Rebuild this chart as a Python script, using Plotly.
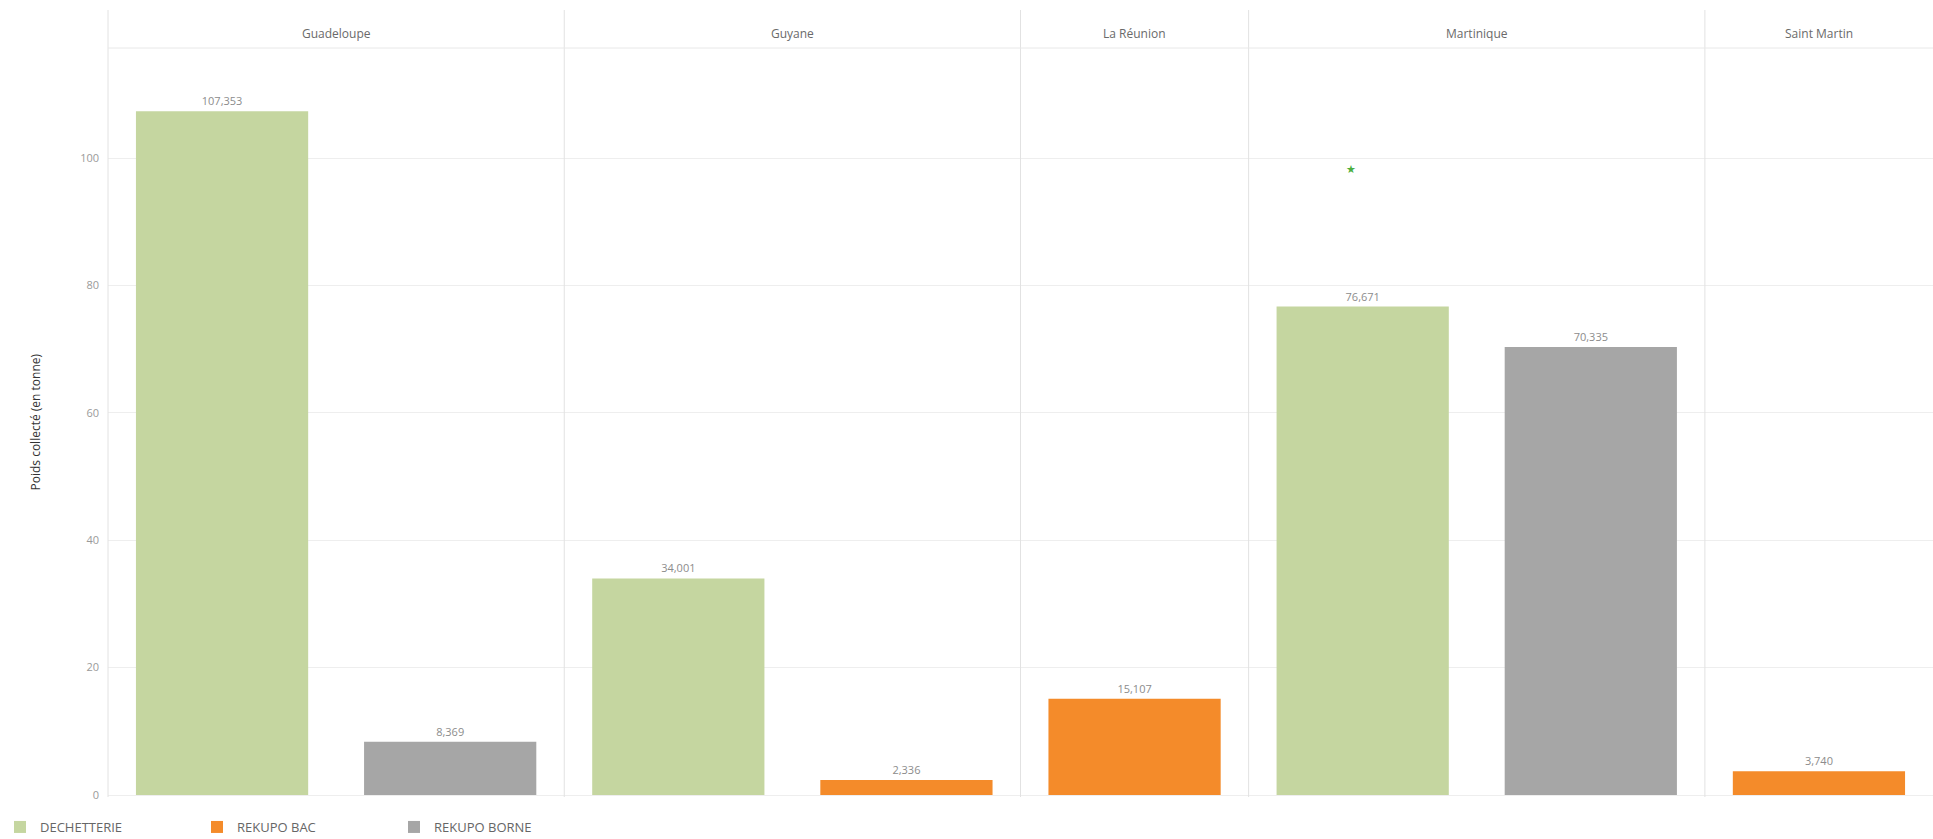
import plotly.graph_objects as go
from plotly.subplots import make_subplots

# ---------------- data ----------------
regions = ["Guadeloupe", "Guyane", "La Réunion", "Martinique", "Saint Martin"]
types = ["DECHETTERIE", "REKUPO BAC", "REKUPO BORNE"]
dechetterie = [107.353, 34.001, None, 76.671, None]
rekupo_bac = [None, 2.336, 15.107, None, 3.740]
rekupo_borne = [8.369, None, None, 70.335, None]
y_ticks = [0, 20, 40, 60, 80, 100]
y_title = "Poids collecté (en tonne)"

series = {"DECHETTERIE": dechetterie, "REKUPO BAC": rekupo_bac, "REKUPO BORNE": rekupo_borne}
colors = {"DECHETTERIE": "#c5d6a0", "REKUPO BAC": "#f48b2a", "REKUPO BORNE": "#a6a6a6"}

# ---------------- layout constants ----------------
W, H = 1933, 839
ML, MR, MT, MB = 108, 0, 48, 42
plot_h = H - MT - MB
px_per_unit = 6.37
zero_px_above_bottom = 2
y0 = -zero_px_above_bottom / px_per_unit
y1 = y0 + plot_h / px_per_unit

present = [[t for t in types if series[t][i] is not None] for i in range(len(regions))]
widths = [len(p) for p in present]

fig = make_subplots(rows=1, cols=len(regions), column_widths=widths,
                    horizontal_spacing=0, shared_yaxes=True)

for t in types:
    shown = False
    for i, r in enumerate(regions):
        v = series[t][i]
        if v is None:
            continue
        fig.add_trace(go.Bar(
            x=[t], y=[v], name=t, legendgroup=t, showlegend=not shown,
            marker=dict(color=colors[t], line=dict(width=0)),
            width=0.755,
            texttemplate="%{y:.3f}", textposition="outside",
            textfont=dict(size=11, color="#8c8c8c", family="Open Sans"),
            cliponaxis=False, hoverinfo="skip",
        ), row=1, col=i + 1)
        shown = True

for i in range(len(regions)):
    fig.update_xaxes(categoryorder="array", categoryarray=present[i],
                     range=[-0.5, len(present[i]) - 0.5],
                     showticklabels=False, showgrid=False, zeroline=False,
                     showline=False, ticks="", row=1, col=i + 1)
    fig.update_yaxes(range=[y0, y1], tickvals=y_ticks, showgrid=True,
                     gridcolor="#eeeeee", gridwidth=1, zeroline=False,
                     showline=False, ticks="", row=1, col=i + 1)

fig.update_yaxes(tickfont=dict(size=11, color="#9a9a9a", family="Open Sans"),
                 ticklabelstandoff=8, row=1, col=1)

annotations = []
# headers
for i, r in enumerate(regions):
    xa = "x" if i == 0 else f"x{i+1}"
    annotations.append(dict(text=r, xref=f"{xa} domain", x=0.5, yref="paper", y=1,
                            yanchor="middle", yshift=15, showarrow=False,
                            font=dict(size=12, color="#6a6a6a", family="Open Sans")))
# y axis title
annotations.append(dict(text=y_title, xref="paper", x=0, xshift=-73, yref="paper", y=0.5,
                        textangle=-90, showarrow=False, xanchor="center", yanchor="middle",
                        font=dict(size=12, color="#333333", family="Open Sans")))
# small green star in Martinique panel
annotations.append(dict(text="★", xref="x4 domain", x=0.21, yref="y4", y=98.4,
                        showarrow=False, font=dict(size=11, color="#4caf3f")))

shapes = []
top_ext = 1 + (MT - 10) / plot_h
bounds = [0.0]
for i in range(1, len(regions)):
    dom = fig.layout[f"xaxis{i+1}"].domain
    bounds.append(dom[0])
for b in bounds:
    shapes.append(dict(type="line", xref="paper", yref="paper", x0=b, x1=b,
                       y0=0, y1=top_ext, line=dict(color="#e2e2e2", width=1)))
shapes.append(dict(type="line", xref="paper", yref="paper", x0=0, x1=1, y0=1, y1=1,
                   line=dict(color="#e8e8e8", width=1)))

fig.update_layout(
    width=W, height=H,
    margin=dict(l=ML, r=MR, t=MT, b=MB, pad=0),
    paper_bgcolor="white", plot_bgcolor="white",
    barmode="overlay", separators=", ",
    font=dict(family="Open Sans", color="#666666"),
    annotations=annotations, shapes=shapes,
    legend=dict(orientation="h", xref="container", x=0, yref="container",
                y=(H - 827) / H, yanchor="middle", xanchor="left",
                entrywidth=152, entrywidthmode="pixels",
                font=dict(size=13, color="#666666", family="Open Sans"),
                traceorder="normal"),
    showlegend=True,
)

fig.write_html("out.html", config={"displayModeBar": False},
               post_script="document.body.style.margin='0';")
